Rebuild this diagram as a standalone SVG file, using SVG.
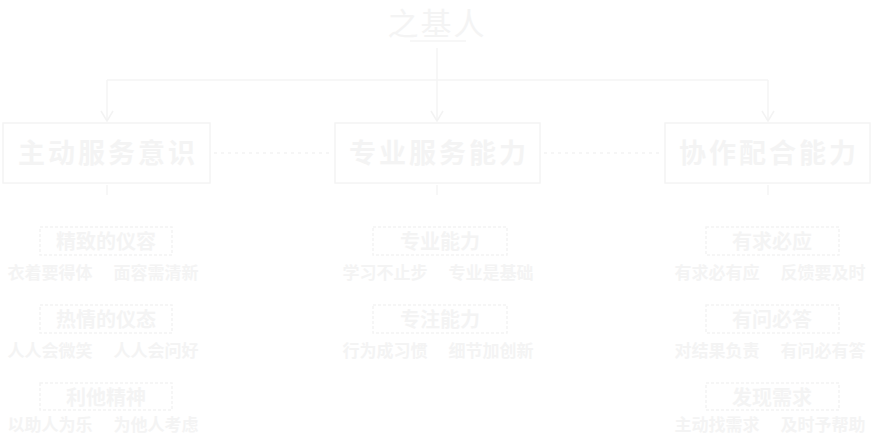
<svg xmlns="http://www.w3.org/2000/svg" width="876" height="435" viewBox="0 0 876 435">
<defs>
<marker id="arr" markerWidth="14" markerHeight="14" refX="11" refY="7" orient="auto" markerUnits="userSpaceOnUse" viewBox="0 0 14 14">
<path d="M1,1 L11,7 L1,13" fill="none" stroke="#f3f3f3" stroke-width="1.5"/>
</marker>
<style>
.t{font-family:"Noto Sans CJK SC","Noto Sans",sans-serif;fill:#f4f4f4;text-anchor:middle}
.main{font-size:27px;font-weight:bold;letter-spacing:3px}
.sub{font-size:20px;font-weight:bold}
.d{font-size:17px;font-weight:bold}
.box{fill:none;stroke:#f4f4f4;stroke-width:1.5}
.sb{fill:none;stroke:#f4f4f4;stroke-width:1.5;stroke-dasharray:3 2}
.ln{fill:none;stroke:#f4f4f4;stroke-width:1.5}
.dot{fill:none;stroke:#f4f4f4;stroke-width:1.5;stroke-dasharray:3 4}
</style>
</defs>
<g id="title">
<text class="t" x="437" y="35" style="font-size:31px;letter-spacing:2px">之基人</text>
<line class="ln" x1="410" y1="41" x2="466" y2="41"/>
</g>
<g id="connectors">
<line class="ln" x1="437" y1="48" x2="437" y2="80"/>
<line class="ln" x1="107" y1="80" x2="768" y2="80"/>
<line class="ln" x1="107" y1="80" x2="107" y2="121" marker-end="url(#arr)"/>
<line class="ln" x1="437" y1="80" x2="437" y2="121" marker-end="url(#arr)"/>
<line class="ln" x1="768" y1="80" x2="768" y2="121" marker-end="url(#arr)"/>
<line class="dot" x1="214" y1="153" x2="332" y2="153"/>
<line class="dot" x1="544" y1="153" x2="662" y2="153"/>
<line class="ln" x1="107" y1="185" x2="107" y2="195"/>
<line class="ln" x1="437" y1="185" x2="437" y2="195"/>
<line class="ln" x1="768" y1="185" x2="768" y2="195"/>
</g>
<g id="node-left">
<rect class="box" x="3" y="123" width="207" height="60"/>
<text class="t main" x="108" y="163">主动服务意识</text>
</g>
<g id="node-mid">
<rect class="box" x="335" y="123" width="205" height="60"/>
<text class="t main" x="439" y="163">专业服务能力</text>
</g>
<g id="node-right">
<rect class="box" x="665" y="123" width="205" height="60"/>
<text class="t main" x="769" y="163">协作配合能力</text>
</g>
<g id="left-1">
<rect class="sb" x="40" y="227" width="132" height="28"/>
<text class="t sub" x="106" y="249">精致的仪容</text>
<text class="t d" x="50" y="279">衣着要得体</text>
<text class="t d" x="156" y="279">面容需清新</text>
</g>
<g id="left-2">
<rect class="sb" x="40" y="305" width="132" height="28"/>
<text class="t sub" x="106" y="327">热情的仪态</text>
<text class="t d" x="50" y="357">人人会微笑</text>
<text class="t d" x="156" y="357">人人会问好</text>
</g>
<g id="left-3">
<rect class="sb" x="40" y="383" width="132" height="27"/>
<text class="t sub" x="106" y="405">利他精神</text>
<text class="t d" x="50" y="431">以助人为乐</text>
<text class="t d" x="156" y="431">为他人考虑</text>
</g>
<g id="mid-1">
<rect class="sb" x="373" y="227" width="134" height="28"/>
<text class="t sub" x="440" y="249">专业能力</text>
<text class="t d" x="385" y="279">学习不止步</text>
<text class="t d" x="491" y="279">专业是基础</text>
</g>
<g id="mid-2">
<rect class="sb" x="373" y="305" width="134" height="28"/>
<text class="t sub" x="440" y="327">专注能力</text>
<text class="t d" x="385" y="357">行为成习惯</text>
<text class="t d" x="491" y="357">细节加创新</text>
</g>
<g id="right-1">
<rect class="sb" x="706" y="227" width="133" height="28"/>
<text class="t sub" x="772" y="249">有求必应</text>
<text class="t d" x="717" y="279">有求必有应</text>
<text class="t d" x="823" y="279">反馈要及时</text>
</g>
<g id="right-2">
<rect class="sb" x="706" y="305" width="133" height="28"/>
<text class="t sub" x="772" y="327">有问必答</text>
<text class="t d" x="717" y="357">对结果负责</text>
<text class="t d" x="823" y="357">有问必有答</text>
</g>
<g id="right-3">
<rect class="sb" x="706" y="383" width="133" height="27"/>
<text class="t sub" x="772" y="405">发现需求</text>
<text class="t d" x="717" y="431">主动找需求</text>
<text class="t d" x="823" y="431">及时予帮助</text>
</g>
</svg>
